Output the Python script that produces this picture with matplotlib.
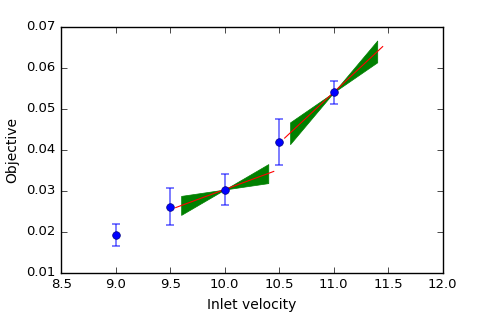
import numpy as np
import matplotlib
matplotlib.use('Agg')
import matplotlib.pyplot as plt

plt.style.use('classic')

# measured points
vel = [9.0, 9.5, 10.0, 10.5, 11.0]
obj = [0.0191, 0.0261, 0.0303, 0.0418, 0.0540]
err = [0.0027, 0.0045, 0.0038, 0.0056, 0.0028]

# local fits around 10.0 and 11.0
fit_x = [10.0, 11.0]
fit_y = [0.0303, 0.0540]
fit_slope = [0.0098, 0.0248]
slope_lo = [0.0039, 0.0183]
slope_hi = [0.0155, 0.0316]
line_half = 0.45
band_half = 0.4

fig = plt.figure(figsize=(4.79, 3.22), dpi=100)
ax = fig.add_axes([0.128, 0.153, 0.796, 0.764])

for xc, yc, s, sl, sh in zip(fit_x, fit_y, fit_slope, slope_lo, slope_hi):
    xb = np.linspace(xc - band_half, xc + band_half, 50)
    ax.fill_between(xb, yc + sl*(xb - xc), yc + sh*(xb - xc),
                    color='green', edgecolor='green', linewidth=0.5)
    xl = np.array([xc - line_half, xc + line_half])
    ax.plot(xl, yc + s*(xl - xc), 'r-', lw=0.8)

ax.errorbar(vel, obj, yerr=err, fmt='none', ecolor='blue', alpha=0.6,
            capsize=3, elinewidth=1.2, capthick=1.2)
ax.plot(vel, obj, 'bo', markersize=5.5, markeredgecolor='#000080',
        markeredgewidth=0.5)

ax.set_xlim(8.5, 12.0)
ax.set_ylim(0.01, 0.07)
ax.set_xticks(np.arange(8.5, 12.01, 0.5))
ax.set_yticks(np.arange(0.01, 0.0701, 0.01))
ax.tick_params(labelsize=9.5)
ax.set_xlabel('Inlet velocity', fontsize=10)
ax.set_ylabel('Objective', fontsize=10)

fig.savefig('out.png', dpi=100)
